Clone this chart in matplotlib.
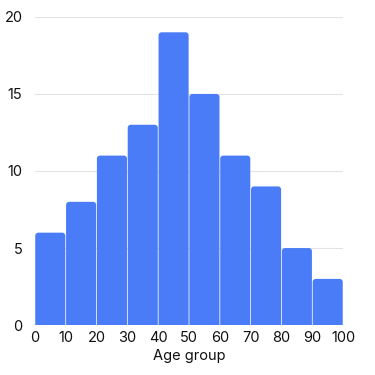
import numpy as np
import matplotlib.pyplot as plt
from matplotlib.path import Path
from matplotlib.patches import PathPatch

bin_edges = [0, 10, 20, 30, 40, 50, 60, 70, 80, 90, 100]
counts = [6, 8, 11, 13, 19, 15, 11, 9, 5, 3]
x_ticks = [0, 10, 20, 30, 40, 50, 60, 70, 80, 90, 100]
y_ticks = [0, 5, 10, 15, 20]

plt.rcParams['font.family'] = ['Inter', 'DejaVu Sans']
bar_color = '#4a7cf7'


def rounded_top(x0, x1, h, rx, ry):
    # bar path with rounded top corners (elliptical, data units)
    k = 0.55
    verts = [(x0, 0), (x0, h - ry),
             (x0, h - ry + k * ry), (x0 + rx - k * rx, h), (x0 + rx, h),
             (x1 - rx, h),
             (x1 - rx + k * rx, h), (x1, h - ry + k * ry), (x1, h - ry),
             (x1, 0), (x0, 0)]
    codes = [Path.MOVETO, Path.LINETO,
             Path.CURVE4, Path.CURVE4, Path.CURVE4,
             Path.LINETO,
             Path.CURVE4, Path.CURVE4, Path.CURVE4,
             Path.LINETO, Path.CLOSEPOLY]
    return Path(verts, codes)


fig = plt.figure(figsize=(3.75, 3.75), dpi=100)
ax = fig.add_axes([0.093, 0.133, 0.822, 0.822])
ax.set_xlim(0, 100)
ax.set_ylim(0, 20)

for left, right, c in zip(bin_edges[:-1], bin_edges[1:], counts):
    p = rounded_top(left + 0.12, right - 0.12, c, 1.0, 0.2)
    ax.add_patch(PathPatch(p, fc=bar_color, ec='none', zorder=3))

ax.set_xticks(x_ticks)
ax.set_yticks(y_ticks)
ax.grid(axis='y', color='#e3e3e3', lw=0.8, zorder=0)
for s in ax.spines.values():
    s.set_visible(False)
ax.tick_params(length=0, labelsize=10.5, colors='#111111', pad=4)
ax.tick_params(axis='y', pad=9)
ax.set_xlabel('Age group', fontsize=10.5, color='#111111', labelpad=3)

fig.savefig('out.png', dpi=100)
